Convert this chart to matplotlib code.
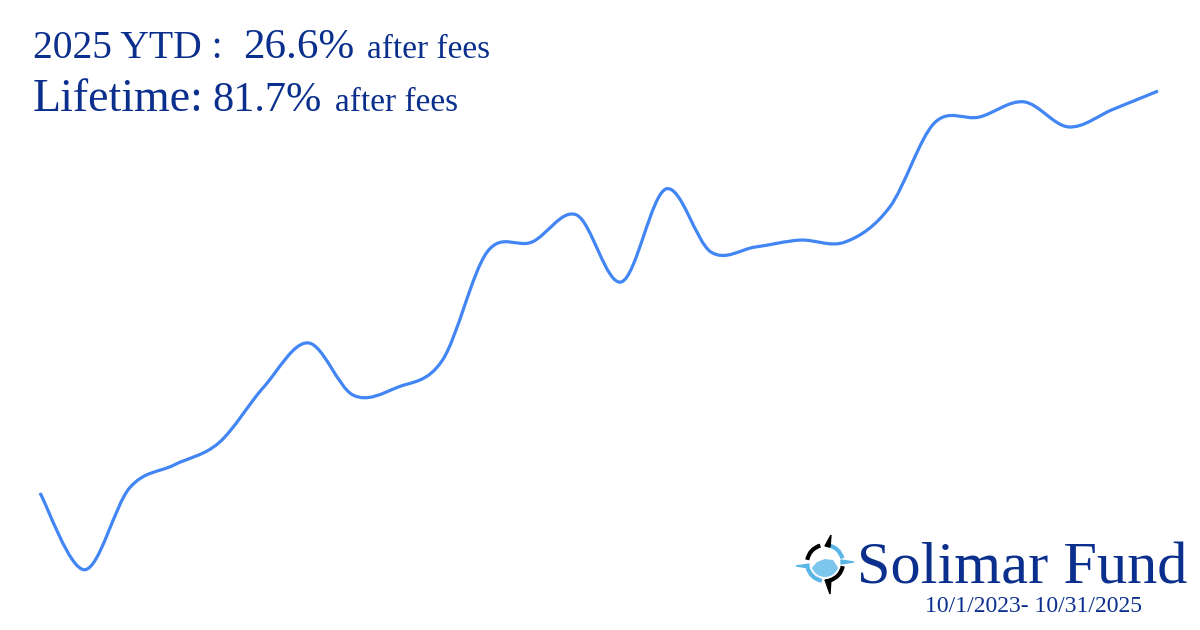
import numpy as np
import matplotlib
matplotlib.use("Agg")
import matplotlib.pyplot as plt
from matplotlib.path import Path
from matplotlib.patches import PathPatch, Polygon, Wedge, Arc

# ---- data (cumulative return %, month-end) ----
months = ["2023-10-01", "2023-10", "2023-11", "2023-12", "2024-01", "2024-02", "2024-03",
          "2024-04", "2024-05", "2024-06", "2024-07", "2024-08", "2024-09", "2024-10",
          "2024-11", "2024-12", "2025-01", "2025-02", "2025-03", "2025-04", "2025-05",
          "2025-06", "2025-07", "2025-08", "2025-09", "2025-10"]
cum_return = [0.0, -15.6, 1.0, 5.7, 10.2, 21.5, 30.5, 19.9, 21.5, 27.0, 49.0, 51.0,
              56.5, 42.9, 61.8, 49.0, 50.0, 51.4, 51.0, 58.1, 75.2, 76.4, 79.5,
              74.4, 78.0, 81.7]
ytd_text = "26.6%"
lifetime_text = "81.7%"
period_text = "10/1/2023- 10/31/2025"

NAVY = "#0b2f8c"
BLUE = "#4285f4"
SERIF = ["Liberation Serif", "DejaVu Serif"]

W, H = 1200, 630
fig = plt.figure(figsize=(W / 100, H / 100), dpi=100)
fig.patch.set_facecolor("white")

ax = fig.add_axes([40 / W, 0, 1118 / W, 1])
ax.set_axis_off()
x = np.arange(len(cum_return), dtype=float)
y = np.array(cum_return, dtype=float)
ax.set_xlim(0, len(x) - 1)
ax.set_ylim(-27.85, 100.2)

# smooth curve through the data points (cubic Bezier segments)
pts = np.column_stack([x, y])
ext = np.vstack([pts[0], pts, pts[-1]])
verts = [tuple(pts[0])]
codes = [Path.MOVETO]
k = 1.0 / 6.0
for i in range(len(pts) - 1):
    p0, p1, p2, p3 = ext[i], ext[i + 1], ext[i + 2], ext[i + 3]
    c1 = p1 + (p2 - p0) * k
    c2 = p2 - (p3 - p1) * k
    verts += [tuple(c1), tuple(c2), tuple(p2)]
    codes += [Path.CURVE4] * 3
patch = PathPatch(Path(verts, codes), facecolor="none", edgecolor=BLUE,
                  lw=2.3, capstyle="butt", joinstyle="round", clip_on=False)
ax.add_patch(patch)


def ftext(px, py, s, size, **kw):
    fig.text(px / W, 1 - py / H, s, fontsize=size, color=NAVY, family=SERIF,
             ha="left", va="baseline", **kw)


# headline texts
ftext(33, 58, "2025 YTD :", 28.5)
ftext(243, 58, ytd_text, 31)
ftext(367, 58, "after fees", 24)
ftext(33, 111, "Lifetime:", 33)
ftext(212, 111, lifetime_text, 30.5)
ftext(335, 111, "after fees", 24)

# brand
ftext(857, 583, "Solimar Fund", 43.5)
ftext(925, 612, period_text, 17)

# logo (simple compass-like emblem)
lax = fig.add_axes([795 / W, 1 - 595 / H, 60 / W, 60 / H])
lax.set_xlim(-30, 30)
lax.set_ylim(-32, 28)
lax.set_aspect("equal")
lax.set_axis_off()
LB = "#5bb6e6"
lax.add_patch(Wedge((0, 0), 14, 200, 340, facecolor="#7cc6ee", edgecolor="none"))
lax.add_patch(Polygon([(-13.2, -4.8), (-8, 1), (0, 4), (8, 3), (13.2, -4.8)],
                      closed=True, facecolor="#7cc6ee", edgecolor="none"))
lax.add_patch(Arc((0, 0), 36, 36, theta1=105, theta2=170, color="black", lw=3))
lax.add_patch(Arc((0, 0), 36, 36, theta1=285, theta2=350, color="black", lw=3))
lax.add_patch(Arc((0, 0), 36, 36, theta1=15, theta2=80, color=LB, lw=3))
lax.add_patch(Arc((0, 0), 36, 36, theta1=195, theta2=260, color=LB, lw=3))
lax.add_patch(Polygon([(0, 17), (6, 28), (5, 16)], closed=True, color="black"))
lax.add_patch(Polygon([(0, -17), (5, -31), (6, -16)], closed=True, color="black"))
lax.add_patch(Polygon([(-16, -1), (-29, -3), (-16, -5)], closed=True, color=LB))
lax.add_patch(Polygon([(16, 3), (29, 1), (16, -1)], closed=True, color=LB))

fig.savefig("out.png", dpi=100, facecolor="white")
